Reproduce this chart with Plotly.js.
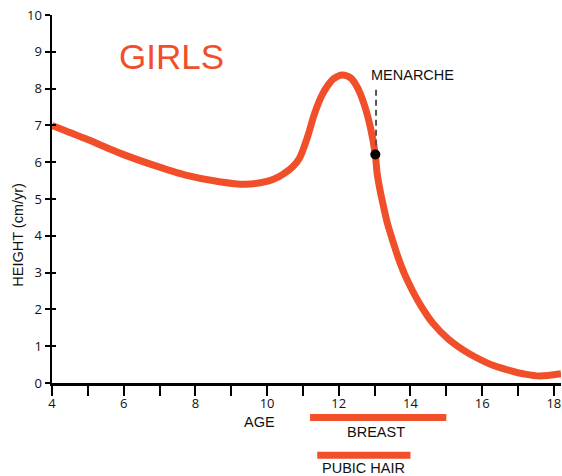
<!DOCTYPE html>
<html>
<head>
<meta charset="utf-8">
<script src="https://cdn.plot.ly/plotly-3.0.1.min.js"></script>
<style>html,body{margin:0;padding:0;background:#fff;}#chart{width:562px;height:476px;}</style>
</head>
<body>
<div id="chart"></div>
<script>
// Growth velocity curve (age in years, height velocity in cm/yr)
var ages = [4.0, 4.91, 5.91, 6.83, 7.73, 8.67, 9.39, 10.05, 10.32, 10.49, 10.7, 10.9, 11.14, 11.31, 11.51, 11.69, 11.86, 12.1, 12.33, 12.51, 12.7, 12.88, 13.02, 13.07, 13.16, 13.25, 13.36, 13.5, 13.65, 13.83, 14.05, 14.31, 14.63, 15.05, 15.5, 15.82, 16.3, 16.73, 17.2, 17.6, 18.2];
var velocity = [7.0, 6.65, 6.24, 5.92, 5.65, 5.47, 5.40, 5.49, 5.60, 5.70, 5.86, 6.10, 6.72, 7.28, 7.78, 8.08, 8.27, 8.37, 8.29, 8.05, 7.60, 6.96, 6.21, 5.70, 5.20, 4.79, 4.33, 3.88, 3.43, 2.97, 2.52, 2.07, 1.62, 1.20, 0.88, 0.70, 0.48, 0.35, 0.24, 0.19, 0.25];

// Menarche marker and its dashed leader
var menarcheAge = [13.02];
var menarcheVel = [6.21];
var leaderX = [13.04, 13.04];
var leaderY = [6.45, 8.05];

// Pubertal stage bars (start, end ages)
var stageNames = ["BREAST", "PUBIC HAIR"];
var stageStart = [11.2, 11.4];
var stageEnd = [15.0, 14.0];

// Axis ticks
var xTickVals = [4,5,6,7,8,9,10,11,12,13,14,15,16,17,18];
var xTickText = ["4","","6","","8","","10","","12","","14","","16","","18"];
var yTickVals = [0,1,2,3,4,5,6,7,8,9,10];

var orange = "#F04F2A";
var labelFont = {family: "Liberation Sans, Arial, sans-serif", size: 14.5, color: "#111"};

var traces = [
  {x: ages, y: velocity, type: "scatter", mode: "lines",
   line: {color: orange, width: 7, shape: "spline", smoothing: 0.8},
   hoverinfo: "skip", showlegend: false},
  {x: leaderX, y: leaderY, type: "scatter", mode: "lines",
   line: {color: "#555", width: 2, dash: "6px,4px"}, hoverinfo: "skip", showlegend: false},
  {x: menarcheAge, y: menarcheVel, type: "scatter", mode: "markers", yaxis: "y2",
   marker: {color: "#000", size: 10}, cliponaxis: false, hoverinfo: "skip", showlegend: false}
];

var stageY = [-0.094, -0.196];
var shapes = [];
var annotations = [];
for (var i = 0; i < stageNames.length; i++) {
  shapes.push({type: "line", xref: "x", yref: "paper", x0: stageStart[i], x1: stageEnd[i],
    y0: stageY[i], y1: stageY[i], line: {color: orange, width: 7}});
}
annotations.push({xref: "paper", yref: "paper", x: 0.6365, y: -0.134, text: stageNames[0], showarrow: false,
  font: labelFont, xanchor: "center", yanchor: "middle"});
annotations.push({xref: "paper", yref: "paper", x: 0.6124, y: -0.232, text: stageNames[1], showarrow: false,
  font: labelFont, xanchor: "center", yanchor: "middle"});
annotations.push({xref: "paper", yref: "paper", x: 0.4067, y: -0.106, text: "AGE", showarrow: false,
  font: labelFont, xanchor: "center", yanchor: "middle"});
annotations.push({xref: "paper", yref: "paper", x: -0.0668, y: 0.403, text: "HEIGHT (cm/yr)", showarrow: false,
  textangle: -90, font: labelFont, xanchor: "center", yanchor: "middle"});
annotations.push({xref: "paper", yref: "paper", x: 0.2338, y: 0.886, text: "GIRLS", showarrow: false,
  font: {family: "Liberation Sans, Arial, sans-serif", size: 35, color: orange}, xanchor: "center", yanchor: "middle"});
annotations.push({xref: "paper", yref: "paper", x: 0.7092, y: 0.837, text: "MENARCHE", showarrow: false,
  font: labelFont, xanchor: "center", yanchor: "middle"});

var layout = {
  width: 562, height: 476,
  margin: {l: 52, r: 1, t: 15, b: 93},
  paper_bgcolor: "#fff", plot_bgcolor: "#fff",
  showlegend: false,
  xaxis: {range: [4, 18.2], tickvals: xTickVals, ticktext: xTickText,
    ticks: "outside", ticklen: 10, tickwidth: 2, tickcolor: "#000",
    ticklabeloverflow: "allow", ticklabelstandoff: -3,
    showline: true, linecolor: "#000", linewidth: 2.5, showgrid: false, zeroline: false,
    tickfont: {family: "Open Sans, sans-serif", size: 13, color: "#111"}, fixedrange: true},
  yaxis: {range: [0, 10], tickvals: yTickVals,
    ticks: "outside", ticklen: 5, tickwidth: 2, tickcolor: "#000",
    ticklabeloverflow: "allow",
    showline: true, linecolor: "#000", linewidth: 2.5, showgrid: false, zeroline: false,
    tickfont: {family: "Open Sans, sans-serif", size: 13, color: "#111"}, fixedrange: true},
  yaxis2: {range: [0, 10], overlaying: "y", side: "left", tickvals: yTickVals,
    ticks: "inside", ticklen: 4, tickwidth: 2, tickcolor: "#000",
    showticklabels: false, showline: false, showgrid: false, zeroline: false, fixedrange: true},
  shapes: shapes,
  annotations: annotations
};

Plotly.newPlot("chart", traces, layout, {displayModeBar: false, staticPlot: true});
</script>
</body>
</html>
